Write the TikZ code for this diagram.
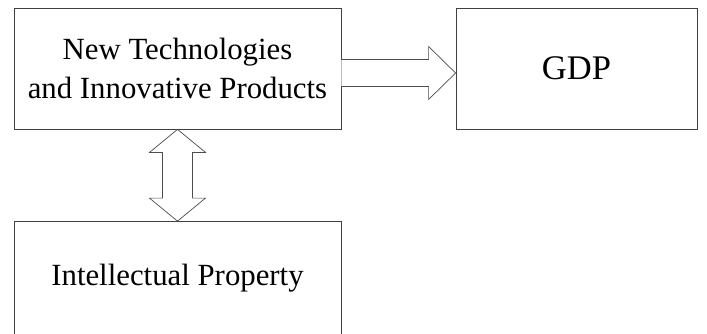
\documentclass[tikz,border=0pt]{standalone}
\usepackage{fontspec}
\setmainfont{Liberation Serif}
\usetikzlibrary{calc}

\begin{document}
\begin{tikzpicture}[
    x=1pt, y=-1pt,
    box/.style={draw=black!75, line width=0.8pt, minimum width=327pt, align=center, inner sep=0pt, font=\fontsize{30.8}{39}\selectfont},
    blockarrow/.style={draw=black!70, line width=0.7pt, fill=white, line join=miter}
]
\useasboundingbox (0,0) rectangle (707,333);

% ---- Boxes ----
\node[box, minimum height=121pt] (tech) at (177.5,68.5) {New Technologies\\and Innovative Products};
\node[box, minimum width=241pt, minimum height=121pt, font=\fontsize{34.5}{40}\selectfont] (gdp) at (576.5,68.5) {GDP};
\node[box, minimum height=113pt] (ip) at (177.5,278) {Intellectual Property};

% ---- Right block arrow ----
\coordinate (r0) at ([yshift=-4.5pt]tech.east);
\coordinate (r1) at ([yshift=-4.5pt]gdp.west);
\draw[blockarrow] ($(r0)+(0,-13.5)$) -- ($(r1)+(-27,-13.5)$) -- ($(r1)+(-27,-26.5)$) -- (r1)
    -- ($(r1)+(-27,26.5)$) -- ($(r1)+(-27,13.5)$) -- ($(r0)+(0,13.5)$);

% ---- Double block arrow ----
\draw[blockarrow] (tech.south) -- ($(tech.south)+(28,23)$) -- ($(tech.south)+(15,23)$)
    -- ($(ip.north)+(15,-23)$) -- ($(ip.north)+(28,-23)$) -- (ip.north)
    -- ($(ip.north)+(-28,-23)$) -- ($(ip.north)+(-15,-23)$)
    -- ($(tech.south)+(-15,23)$) -- ($(tech.south)+(-28,23)$) -- cycle;

\end{tikzpicture}
\end{document}
